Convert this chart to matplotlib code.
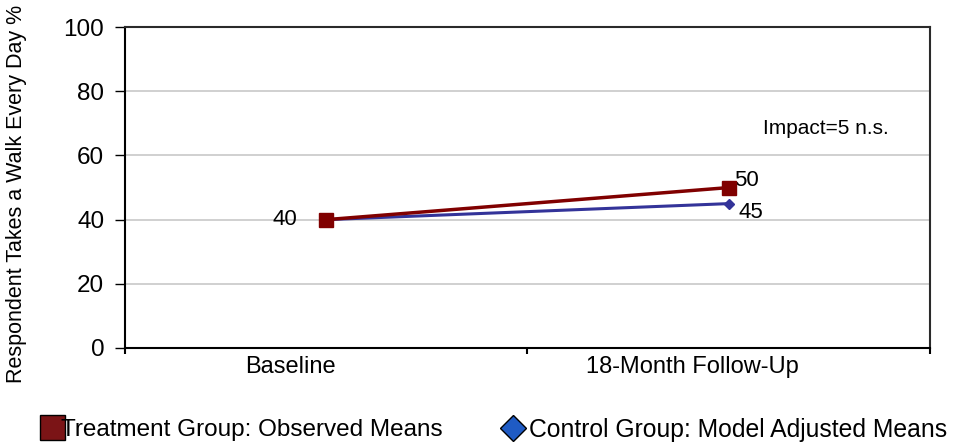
import matplotlib.pyplot as plt
from matplotlib.lines import Line2D
from matplotlib.transforms import ScaledTranslation

plt.rcParams['font.family'] = ['Liberation Sans', 'DejaVu Sans']

# data
periods = ["Baseline", "18-Month Follow-Up"]
treatment = [40, 50]
control = [40, 45]
y_ticks = [0, 20, 40, 60, 80, 100]
impact_note = "Impact=5 n.s."
legend_labels = ["Treatment Group: Observed Means", "Control Group: Model Adjusted Means"]

fig = plt.figure(figsize=(9.55, 4.45), dpi=100)
ax = fig.add_axes([0.1309, 0.218, 0.8429, 0.721])

x = list(range(len(periods)))
ax.plot(x, control, color="#333399", lw=2.2, marker="D", ms=5.5, zorder=3)
ax.plot(x, treatment, color="#800000", lw=2.5, marker="s", ms=9.5, zorder=4)

# point labels
ax.annotate(str(treatment[0]), (x[0], treatment[0]), xytext=(-21, 0), textcoords="offset points",
            ha="right", va="center", fontsize=16)
ax.annotate(str(treatment[1]), (x[1], treatment[1]), xytext=(4, 5), textcoords="offset points",
            ha="left", va="center", fontsize=16)
ax.annotate(str(control[1]), (x[1], control[1]), xytext=(7, -6.5), textcoords="offset points",
            ha="left", va="center", fontsize=16)
ax.text(1.085, 68.5, impact_note, ha="left", va="center", fontsize=15)

ax.set_xlim(-0.5, 1.5)
ax.set_ylim(0, 100)
ax.set_yticks(y_ticks)
ax.set_yticklabels([str(v) for v in y_ticks], fontsize=17.5)
ax.set_xticks(x)
ax.set_xticklabels(periods, fontsize=17)
ax.tick_params(axis="x", length=0, pad=6)
shift = ScaledTranslation(-0.36, 0, fig.dpi_scale_trans)
for lbl in ax.get_xticklabels():
    lbl.set_transform(lbl.get_transform() + shift)
ax.set_xticks([-0.5, 0.5, 1.5], minor=True)
ax.tick_params(axis="x", which="minor", length=4, width=1.5, color="black")
ax.tick_params(axis="y", length=7, width=1, pad=8)
ax.grid(axis="y", color="#c8c8c8", lw=1.2)
ax.set_axisbelow(True)
for side in ["left", "bottom"]:
    ax.spines[side].set_linewidth(1.5)
    ax.spines[side].set_color("black")
for side in ["top", "right"]:
    ax.spines[side].set_linewidth(1.5)
    ax.spines[side].set_color("#2a2a2a")

ax.set_ylabel("Respondent Takes a Walk Every Day %", fontsize=15.5)
ax.yaxis.set_label_coords(-0.122, 0.48)

h1 = Line2D([], [], ls="none", marker="s", ms=18, mfc="#7b1416", mec="black", mew=1)
h2 = Line2D([], [], ls="none", marker="D", ms=13.5, mfc="#1f5bc4", mec="black", mew=1)
leg1 = fig.legend([h1], [legend_labels[0]], loc="center left", bbox_to_anchor=(40 / 955, 0.034),
                  frameon=False, fontsize=17.5, handlelength=0.97, handletextpad=-0.1,
                  borderpad=0, borderaxespad=0)
leg2 = fig.legend([h2], [legend_labels[1]], loc="center left", bbox_to_anchor=(501 / 955, 0.034),
                  frameon=False, fontsize=17.8, handlelength=0.95, handletextpad=0.2,
                  borderpad=0, borderaxespad=0)

fig.savefig("out.png", dpi=100)
